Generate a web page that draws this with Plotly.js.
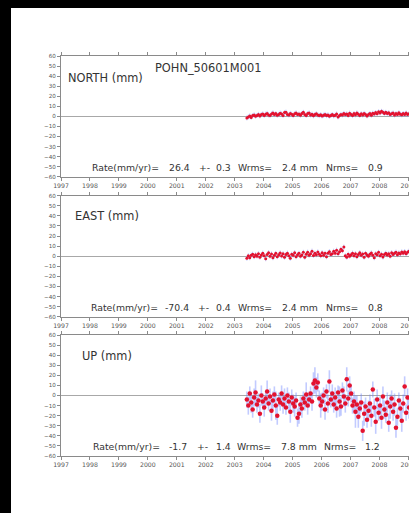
<!DOCTYPE html>
<html>
<head>
<meta charset="utf-8">
<script src="https://cdn.plot.ly/plotly-3.0.1.min.js"></script>
<style>
html,body{margin:0;padding:0;background:#000;overflow:hidden;width:409px;height:513px;}
#chart{position:absolute;left:11px;top:8px;width:398px;height:505px;background:#fff;}
</style>
</head>
<body>
<div id="chart"></div>
<script>
// ---- data ----
const stationName = "POHN_50601M001";
const componentLabels = ["NORTH (mm)", "EAST (mm)", "UP (mm)"];
const rates = ["26.4", "-70.4", "-1.7"];
const rateErrs = ["0.3", "0.4", "1.4"];
const wrms = ["2.4 mm", "2.4 mm", "7.8 mm"];
const nrms = ["0.9", "0.8", "1.2"];
const yearTicks = [1997,1998,1999,2000,2001,2002,2003,2004,2005,2006,2007,2008,2009];

const t = [
2003.42,2003.47,2003.52,2003.57,2003.62,2003.67,2003.72,2003.77,2003.82,2003.87,2003.92,2003.97,
2004.02,2004.07,2004.12,2004.17,2004.22,2004.27,2004.32,2004.37,2004.42,2004.47,2004.52,2004.57,
2004.62,2004.67,2004.72,2004.77,2004.82,2004.87,2004.92,2004.97,2005.02,2005.07,2005.12,2005.17,
2005.22,2005.27,2005.32,2005.37,2005.42,2005.47,2005.52,2005.57,2005.62,2005.67,2005.72,2005.77,
2005.82,2005.87,2005.92,2005.97,2006.02,2006.07,2006.12,2006.17,2006.22,2006.27,2006.32,2006.37,
2006.42,2006.47,2006.52,2006.57,2006.62,2006.67,2006.72,2006.77,2006.82,2006.87,2006.92,2006.97,
2007.02,2007.07,2007.12,2007.17,2007.22,2007.27,2007.32,2007.37,2007.42,2007.47,2007.52,2007.57,
2007.62,2007.67,2007.72,2007.77,2007.82,2007.87,2007.92,2007.97,2008.02,2008.07,2008.12,2008.17,
2008.22,2008.27,2008.32,2008.37,2008.42,2008.47,2008.52,2008.57,2008.62,2008.67,2008.72,2008.77,
2008.82,2008.87,2008.92,2008.97,2009.02];

const north = [
-1.5,-0.5,0.5,-1.0,0.8,1.5,0.2,1.0,2.0,0.5,1.8,2.5,
1.0,2.2,3.0,1.5,0.8,2.5,3.5,1.8,2.8,1.2,2.0,3.2,
2.5,1.0,3.8,4.2,2.0,1.5,3.0,2.2,0.8,2.6,3.5,1.8,
2.4,1.2,3.0,4.0,2.0,1.0,2.8,3.4,1.5,2.2,0.6,1.8,
2.6,1.4,0.8,1.6,0.5,1.2,2.0,0.8,1.5,0.2,1.0,1.8,
0.6,1.2,2.4,-0.5,0.8,2.0,1.5,3.0,1.8,2.5,1.0,3.2,
2.0,0.8,2.8,1.6,3.4,2.2,1.0,2.6,1.4,3.0,2.0,0.5,
1.8,2.8,1.2,3.2,2.4,3.8,2.6,4.5,3.5,5.0,4.2,3.0,
4.0,2.8,3.6,1.8,2.6,3.4,1.5,2.8,2.0,3.6,2.2,1.6,
2.8,2.0,3.4,1.8,2.6];

const east = [
-2.0,0.5,-1.5,1.0,2.0,-0.5,1.5,0.0,2.5,-1.0,1.2,3.0,
0.5,-2.5,1.8,3.5,0.0,2.2,-1.5,1.0,2.8,-0.5,1.5,3.2,
0.2,2.5,-1.0,1.8,3.0,0.5,-2.0,2.0,1.0,3.5,-0.5,1.5,
2.8,0.0,1.2,3.8,-1.0,2.0,4.0,1.0,2.5,5.0,0.8,3.0,
1.5,4.2,2.0,0.5,3.5,1.0,2.8,-0.5,3.0,4.5,1.8,2.5,
5.0,3.0,6.0,2.5,4.5,7.0,5.5,9.0,0.5,-1.0,2.0,0.0,
1.5,3.0,0.5,2.5,-0.5,1.8,3.5,1.0,2.2,-1.0,2.8,1.2,
0.0,2.0,3.2,1.0,-1.5,2.5,1.5,3.8,0.5,2.0,-0.8,1.8,
3.0,1.2,2.5,0.0,3.5,1.8,2.8,4.0,1.5,3.2,2.2,4.2,
3.0,4.5,2.5,3.8,5.0];

const up = [
-4,-10,2,-7,-14,-2,3,-9,-5,-18,0,-6,
-12,-3,4,-8,-1,-15,-5,1,-10,-20,-4,-7,
2,-9,-3,-12,0,-6,-16,-2,-8,-11,-5,-22,
-18,-9,-13,-3,-7,1,-10,-4,2,-6,12,15,
8,13,-3,-10,-6,0,-14,4,-8,14,-4,2,
-9,-2,-13,3,-6,-11,5,-1,-8,16,-3,10,
2,-10,-6,-16,-9,-21,-13,-7,-35,-18,-11,-24,
-15,-8,-20,6,-12,-26,-4,-17,-10,-22,-1,-14,
-19,-7,-27,-11,-3,-16,-9,-32,-21,-5,-13,-25,
-8,9,-17,-2,-12];

const upErr = [
8,9,7,10,8,9,12,8,7,9,10,8,
9,8,11,7,8,10,9,8,14,9,7,8,
8,9,10,7,8,9,11,8,9,10,8,9,
10,8,9,7,8,12,9,8,7,9,11,13,
10,9,8,12,9,8,10,7,9,11,8,9,
8,10,9,7,15,9,8,10,9,12,8,9,
9,8,10,16,9,11,8,9,10,12,9,8,
10,9,11,8,9,12,10,8,9,11,10,9,
8,10,9,12,8,9,11,10,9,8,10,11,
9,10,8,9,11];

const northErr = 2.5;
const eastErr = 2.5;

// ---- styles ----
const red = '#e3122f';
const errColor = 'rgba(110,130,255,0.42)';
const axisColor = '#8a8a8a';
const textColor = '#333333';
const tickColor = '#555555';

function mkTrace(y, err, xa, ya, msize, ethick){
  const e = Array.isArray(err) ? {type:'data', array:err, visible:true} : {type:'constant', value:err, visible:true};
  return {
    x: t, y: y, xaxis: xa, yaxis: ya, type:'scatter', mode:'markers',
    marker:{color:red, size:msize, line:{width:0}},
    error_y: Object.assign(e, {color:errColor, thickness:ethick, width:0}),
    hoverinfo:'skip', showlegend:false
  };
}

const data = [
  mkTrace(north, northErr, 'x', 'y', 3, 1),
  mkTrace(east, eastErr, 'x2', 'y2', 3, 1),
  mkTrace(up, upErr, 'x3', 'y3', 4.5, 1.6)
];

function xAx(anchor){
  return {
    anchor: anchor, range:[1997, 2009.02], tickvals: yearTicks, ticktext: yearTicks.map(String),
    showline:true, linecolor:axisColor, linewidth:1, mirror:'allticks',
    ticks:'outside', ticklen:3, tickwidth:1, tickcolor:axisColor,
    ticklabeloverflow:'allow',
    tickfont:{family:'DejaVu Sans', size:6.2, color:tickColor},
    showgrid:false, zeroline:false, fixedrange:true
  };
}
function yAx(anchor, domain){
  return {
    anchor: anchor, domain: domain, range:[-60,60], dtick:10, tick0:0,
    showline:true, linecolor:axisColor, linewidth:1, mirror:true,
    ticks:'outside', ticklen:3, tickwidth:1, tickcolor:axisColor,
    tickfont:{family:'DejaVu Sans', size:5.6, color:tickColor},
    showgrid:false, zeroline:true, zerolinecolor:'#a8a8a8', zerolinewidth:1, fixedrange:true
  };
}

// annotation helper (paper coords computed from layout positions)
const W = 348, H = 400, L0 = 61, B0 = 456; // page coords of plot area
function px(x){ return (x - L0)/W; }
function py(y){ return (B0 - y)/H; }
function ann(text, x, y, size){
  return {text:text, x:px(x), y:py(y), xref:'paper', yref:'paper', xanchor:'left', yanchor:'middle',
    showarrow:false, font:{family:'DejaVu Sans', size:size, color:textColor}};
}

const annotations = [
  ann(stationName, 153, 67.5, 11.4),
  ann(componentLabels[0], 66, 78, 11.4),
  ann(componentLabels[1], 72.5, 216, 11.4),
  ann(componentLabels[2], 80, 356, 11.4)
];
const rateRows = [167.7, 307.7, 446.7];
const rateX = [[90,166.7,196.5,214,236,280,324,366],[89.3,163.3,196,214,236,280,324,366],[90.7,166.7,195,214,235,279.3,321.7,363.3]];
for (let i=0;i<3;i++){
  const y = rateRows[i], xs = rateX[i];
  const parts = ['Rate(mm/yr)=', rates[i], '+-', rateErrs[i], 'Wrms=', wrms[i], 'Nrms=', nrms[i]];
  parts.forEach((p,k)=>annotations.push(ann(p, xs[k], y, 9.3)));
}

const layout = {
  width: 398, height: 505,
  margin:{l:50, r:0, t:48, b:57, pad:0},
  paper_bgcolor:'#ffffff', plot_bgcolor:'#ffffff',
  showlegend:false,
  xaxis: xAx('y'), xaxis2: xAx('y2'), xaxis3: xAx('y3'),
  yaxis: yAx('x', [0.698, 1]),
  yaxis2: yAx('x2', [0.348, 0.651]),
  yaxis3: yAx('x3', [0, 0.3025]),
  annotations: annotations
};

Plotly.newPlot('chart', data, layout, {staticPlot:true, displayModeBar:false});
</script>
</body>
</html>
